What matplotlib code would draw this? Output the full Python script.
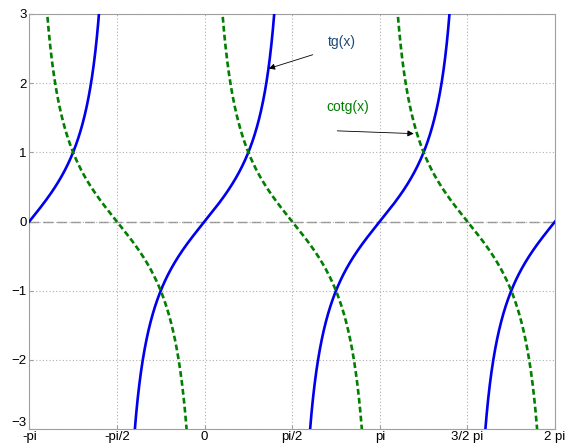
import numpy as np
import matplotlib
matplotlib.use("Agg")
import matplotlib.pyplot as plt

plt.rcParams['font.family'] = ['Liberation Sans', 'DejaVu Sans']

# x range and tick labels
x_start, x_end = -np.pi, 2 * np.pi
x_ticks = [-np.pi, -np.pi / 2, 0, np.pi / 2, np.pi, 3 * np.pi / 2, 2 * np.pi]
x_tick_labels = ["-pi", "-pi/2", "0", "pi/2", "pi", "3/2 pi", "2 pi"]
y_ticks = [-3, -2, -1, 0, 1, 2, 3]

x = np.linspace(x_start, x_end, 4000)
tg = np.tan(x)
cotg = 1.0 / np.tan(x)
# break the curves at the asymptotes
tg[np.abs(tg) > 10] = np.nan
cotg[np.abs(cotg) > 10] = np.nan

BLUE = "#0000ee"
GREEN = "#007f00"
GRID = "#b0b0b0"

fig = plt.figure(figsize=(5.74, 4.48), dpi=100)
ax = fig.add_axes([0.051, 0.042, 0.916, 0.927])

ax.axhline(0, color="#909090", lw=1.0, linestyle=(0, (7, 3)), zorder=1)
ax.plot(x, tg, color=BLUE, lw=1.9, zorder=3)
ax.plot(x, cotg, color=GREEN, lw=1.9, linestyle=(0, (2.2, 1.2)), zorder=3)

ax.set_xlim(x_start, x_end)
ax.set_ylim(-3, 3)
ax.set_xticks(x_ticks)
ax.set_xticklabels(x_tick_labels)
ax.set_yticks(y_ticks)
ax.tick_params(direction="in", length=3, color="#a0a0a0", labelsize=9.5)
ax.tick_params(axis="x", pad=1.5)
ax.tick_params(axis="y", pad=2)
ax.grid(True, color=GRID, linestyle=(0, (1, 2)), lw=0.8)
for s in ax.spines.values():
    s.set_color("#a0a0a0")
# lift the lowest y label a little so it clears "-pi"
ax.get_yticklabels()[0].set_verticalalignment("bottom")

ax.annotate("", xy=(1.15, 2.21), xytext=(1.94, 2.41),
            arrowprops=dict(arrowstyle="-|>", color="black", lw=0.6,
                            mutation_scale=9, shrinkA=0, shrinkB=0))
ax.text(2.46, 2.60, "tg(x)", color="#1f4a7a", fontsize=10, ha="center", va="center")

ax.annotate("", xy=(3.75, 1.27), xytext=(2.38, 1.31),
            arrowprops=dict(arrowstyle="-|>", color="black", lw=0.6,
                            mutation_scale=9, shrinkA=0, shrinkB=0))
ax.text(2.57, 1.66, "cotg(x)", color=GREEN, fontsize=10, ha="center", va="center")

fig.savefig("out.png", dpi=100)
